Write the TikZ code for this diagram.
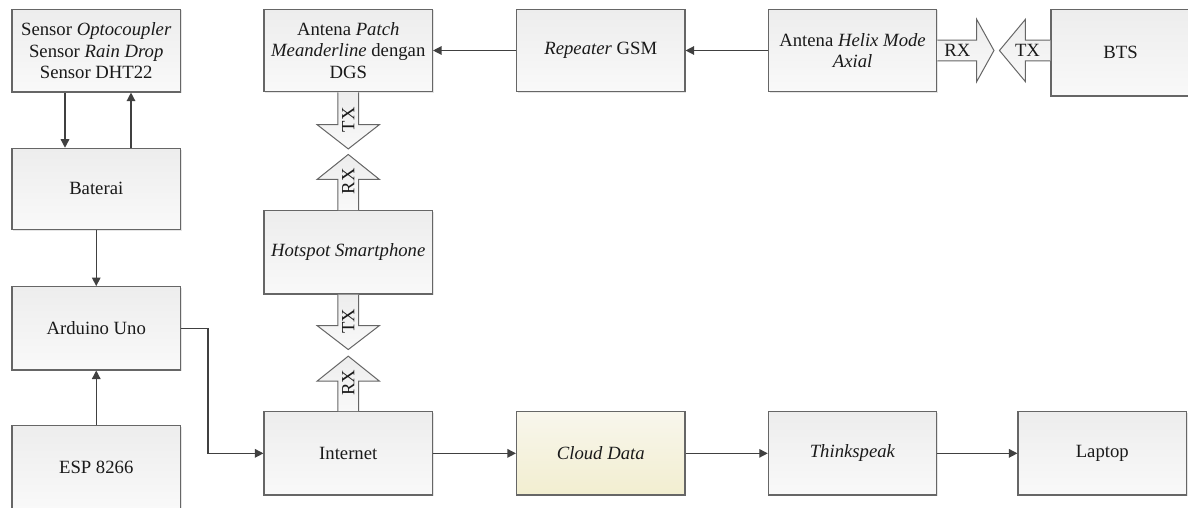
\documentclass[tikz,border=0pt]{standalone}
\usepackage{fontspec}
\setmainfont{Liberation Serif}
\usetikzlibrary{arrows.meta,shadows,calc}
\definecolor{boxline}{HTML}{666666}
\definecolor{connc}{HTML}{404040}
\definecolor{txtc}{HTML}{1A1A1A}
\definecolor{ftop}{HTML}{EDEDED}
\definecolor{fbot}{HTML}{F9F9F9}
\definecolor{ytop}{HTML}{F8F6EC}
\definecolor{ybot}{HTML}{F2EED0}
\tikzset{
  blk/.style={draw=boxline, line width=1.1pt, top color=ftop, bottom color=fbot,
    minimum width=168.5pt, minimum height=82.5pt, inner sep=0pt, align=center,
    text=txtc, font=\fontsize{18.7}{21.5}\selectfont,
    drop shadow={shadow xshift=1.2pt, shadow yshift=-1.2pt, fill=black!25, opacity=0.4}},
  conn/.style={draw=connc, line width=1.3pt, -{Triangle[length=8.5pt,width=8.5pt]}},
  fatshape/.style={draw=boxline, line width=1pt, top color=ftop, bottom color=fbot},
  lbl/.style={text=txtc, font=\fontsize{18.7}{21.5}\selectfont, inner sep=0pt},
  pics/fatarrow/.style args={#1/#2/#3/#4/#5}{code={
    \draw[fatshape] (0,-10.3) -- (#1-#2,-10.3) -- (#1-#2,-31.2) -- (#1,0)
      -- (#1-#2,31.2) -- (#1-#2,10.3) -- (0,10.3);
    \node[lbl, rotate=#4] at (#5,0) {#3};
  }},
}
\begin{document}
\begin{tikzpicture}[x=1pt,y=-1pt]
\useasboundingbox (0,0) rectangle (1188,508);
\fill[white] (0,0) rectangle (1188,508);
\clip (0,0) rectangle (1188,508);

% left column
\node[blk, minimum height=82.7pt] (sensor) at (96.25,50.65) {Sensor \textit{Optocoupler}\\Sensor \textit{Rain Drop}\\Sensor DHT22};
\node[blk, minimum height=81pt] (baterai) at (96.25,188.8) {Baterai};
\node[blk, minimum height=83.3pt] (arduino) at (96.25,328.3) {Arduino Uno};
\node[blk, minimum height=83.3pt] (esp) at (96.25,467.4) {ESP 8266};

% second column
\node[blk] (patch) at (348.25,50.5) {Antena \textit{Patch}\\\textit{Meanderline} dengan\\DGS};
\node[blk, minimum height=83.3pt] (hotspot) at (348.25,252.35) {\textit{Hotspot Smartphone}};
\node[blk, minimum height=83.3pt] (internet) at (348.25,453.35) {Internet};

% top row
\node[blk] (repeater) at (600.75,50.5) {\textit{Repeater} GSM};
\node[blk] (helix) at (852.55,50.5) {Antena \textit{Helix Mode}\\\textit{Axial}};
\node[blk, minimum width=139pt, minimum height=86.7pt] (bts) at (1120.5,52.65) {BTS};

% bottom row
\node[blk, minimum height=83.3pt, top color=ytop, bottom color=ybot] (cloud) at (600.75,453.35) {\textit{Cloud Data}};
\node[blk, minimum height=83.3pt] (think) at (852.55,453.35) {\textit{Thinkspeak}};
\node[blk, minimum height=83.3pt] (laptop) at (1102.25,453.35) {Laptop};

% connectors
\draw[conn] ([xshift=-31.25pt]sensor.south) -- ([xshift=-31.25pt]baterai.north);
\draw[conn] ([xshift=34.75pt]baterai.north) -- ([xshift=34.75pt]sensor.south);
\draw[conn] (baterai.south) -- (arduino.north);
\draw[conn] (esp.north) -- (arduino.north |- arduino.south);
\draw[conn] (arduino.east) -- ++(27,0) |- (internet.west);
\draw[conn] (internet.east) -- (cloud.west);
\draw[conn] (cloud.east) -- (think.west);
\draw[conn] (think.east) -- (laptop.west);
\draw[conn] (repeater.west) -- (patch.east);
\draw[conn] (helix.west) -- (repeater.east);

% wireless (block) arrows
\pic[rotate=-90] at (patch.south) {fatarrow={56.6/24.3/TX/90/27.6}};
\pic[rotate=90] at (hotspot.north) {fatarrow={55.7/25/RX/90/28.7}};
\pic[rotate=-90] at (hotspot.south) {fatarrow={55/24/TX/90/26.8}};
\pic[rotate=90] at (internet.north) {fatarrow={55/25/RX/90/28.4}};
\pic at (helix.east) {fatarrow={56.6/17.3/RX/0/20}};
\pic[rotate=180] at (bts.west |- helix.east) {fatarrow={51/26/TX/0/23}};
\end{tikzpicture}
\end{document}
